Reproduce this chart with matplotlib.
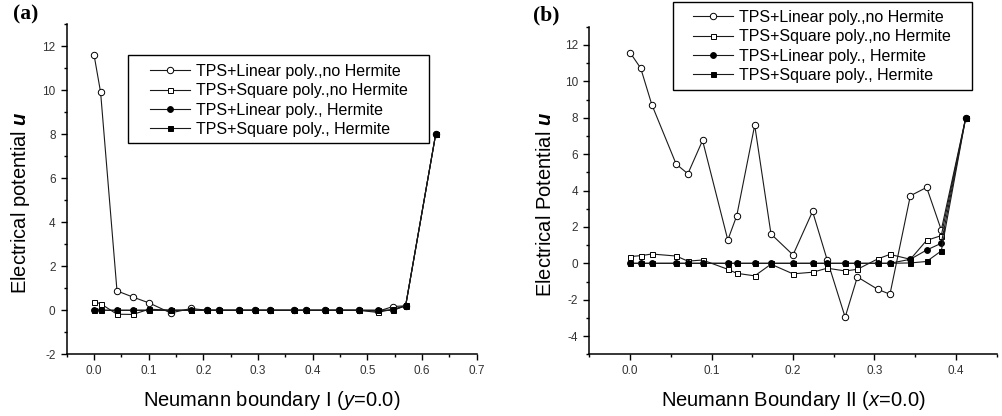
import matplotlib
matplotlib.use("Agg")
import matplotlib.pyplot as plt
from matplotlib.ticker import MultipleLocator
from matplotlib.lines import Line2D
from matplotlib.patches import Rectangle

plt.rcParams['font.family'] = ['Liberation Sans', 'DejaVu Sans']
plt.rcParams['mathtext.fontset'] = 'custom'
plt.rcParams['mathtext.it'] = 'Liberation Sans:italic'
plt.rcParams['mathtext.bf'] = 'Liberation Sans:bold:italic'
plt.rcParams['mathtext.rm'] = 'Liberation Sans'

# ---------------- data ----------------
series_labels = ["TPS+Linear poly.,no Hermite", "TPS+Square poly.,no Hermite",
                 "TPS+Linear poly., Hermite", "TPS+Square poly., Hermite"]

# Panel (a): Neumann boundary I (y=0.0)
xa = [0.0, 0.012, 0.042, 0.071, 0.101, 0.140, 0.178, 0.206, 0.228, 0.266, 0.295,
      0.321, 0.365, 0.387, 0.423, 0.448, 0.484, 0.519, 0.547, 0.570, 0.625]
a_lin_noherm = [11.6, 9.9, 0.88, 0.6, 0.33, -0.12, 0.08, 0.0, 0.0, 0.0, 0.0,
                0.0, 0.0, 0.0, 0.0, 0.0, 0.0, -0.05, 0.17, 0.2, 8.0]
a_sq_noherm = [0.38, 0.3, -0.18, -0.19, 0.05, 0.0, 0.0, 0.0, 0.0, 0.0, 0.0,
               0.0, 0.0, 0.0, 0.0, 0.0, 0.0, -0.1, 0.05, 0.2, 8.0]
a_lin_herm = [0.0, 0.0, 0.0, 0.0, 0.0, 0.0, 0.0, 0.0, 0.0, 0.0, 0.0,
              0.0, 0.0, 0.0, 0.0, 0.0, 0.0, 0.0, 0.0, 0.2, 8.0]
a_sq_herm = [0.0, 0.0, 0.0, 0.0, 0.0, 0.0, 0.0, 0.0, 0.0, 0.0, 0.0,
             0.0, 0.0, 0.0, 0.0, 0.0, 0.0, 0.0, 0.0, 0.22, 8.0]

# Panel (b): Neumann Boundary II (x=0.0)
xb = [0.0, 0.0131, 0.0267, 0.0566, 0.0710, 0.0890, 0.120, 0.131, 0.153, 0.173, 0.200,
      0.224, 0.242, 0.264, 0.279, 0.304, 0.319, 0.344, 0.364, 0.382, 0.412]
b_lin_noherm = [11.58, 10.72, 8.72, 5.45, 4.92, 6.75, 1.28, 2.62, 7.59, 1.61, 0.46,
                2.85, 0.18, -2.96, -0.75, -1.43, -1.70, 3.71, 4.17, 1.83, 8.0]
b_sq_noherm = [0.37, 0.42, 0.51, 0.40, 0.12, 0.18, -0.33, -0.55, -0.69, -0.05, -0.58,
               -0.49, -0.27, -0.42, -0.33, 0.24, 0.49, 0.22, 1.26, 1.52, 8.0]
b_lin_herm = [0.0, 0.0, 0.0, 0.0, 0.0, 0.0, 0.0, 0.0, 0.0, 0.0, 0.0,
              0.0, 0.0, 0.0, 0.0, 0.0, 0.0, 0.22, 0.73, 1.1, 8.0]
b_sq_herm = [0.0, 0.0, 0.0, 0.0, 0.0, 0.0, 0.0, 0.0, 0.0, 0.0, 0.0,
             0.0, 0.0, 0.0, 0.0, 0.0, 0.0, 0.02, 0.1, 0.68, 8.0]

# ---------------- styling ----------------
LC = '#1a1a1a'
styles = [
    dict(marker='o', mfc='white', mec='black', ms=4.6, mew=0.7),
    dict(marker='s', mfc='white', mec='black', ms=3.6, mew=0.7),
    dict(marker='o', mfc='black', mec='black', ms=4.2, mew=0.7),
    dict(marker='s', mfc='black', mec='black', ms=3.6, mew=0.7),
]

W, H = 1003, 416
fig = plt.figure(figsize=(W / 100, H / 100), dpi=100)

def px_axes(l, r, t, b):
    return fig.add_axes([l / W, 1 - b / H, (r - l) / W, (b - t) / H])

axA = px_axes(66.7, 476.7, 24.0, 354.3)
axB = px_axes(589.3, 996.7, 26.7, 354.3)

def style_axes(ax, xlim, ylim, xmaj, ymaj):
    ax.set_xlim(*xlim)
    ax.set_ylim(*ylim)
    ax.xaxis.set_major_locator(MultipleLocator(xmaj))
    ax.xaxis.set_minor_locator(MultipleLocator(xmaj / 2))
    ax.yaxis.set_major_locator(MultipleLocator(ymaj))
    ax.yaxis.set_minor_locator(MultipleLocator(ymaj / 2))
    for s in ('top', 'right'):
        ax.spines[s].set_visible(False)
    for s in ('left', 'bottom'):
        ax.spines[s].set_linewidth(1.1)
    ax.tick_params(which='major', direction='out', length=4, width=1.0,
                   labelsize=8.5, labelcolor='#333333', pad=4)
    ax.tick_params(which='minor', direction='out', length=2.3, width=1.0)
    ax.xaxis.set_major_formatter(plt.FuncFormatter(lambda v, p: f"{v:.1f}"))
    ax.yaxis.set_major_formatter(plt.FuncFormatter(lambda v, p: f"{v:.0f}"))

style_axes(axA, (-0.05, 0.7), (-2, 13), 0.1, 2)
style_axes(axB, (-0.05, 0.45), (-5, 13), 0.1, 2)

for ax, x, ys in [(axA, xa, [a_lin_noherm, a_sq_noherm, a_lin_herm, a_sq_herm]),
                  (axB, xb, [b_lin_noherm, b_sq_noherm, b_lin_herm, b_sq_herm])]:
    for y, st in zip(ys, styles):
        ax.plot(x, y, color=LC, lw=0.8, clip_on=False, **st)

axA.set_ylabel(r'Electrical potential $\mathbf{u}$', fontsize=14.5)
axA.set_xlabel(r'Neumann boundary I ($\mathit{y}$=0.0)', fontsize=14.5)
axB.set_ylabel(r'Electrical Potential $\mathbf{u}$', fontsize=14.5)
axB.set_xlabel(r'Neumann Boundary II ($\mathit{x}$=0.0)', fontsize=14.5)
axA.yaxis.set_label_coords(-0.085, 0.458)
axB.yaxis.set_label_coords(-0.085, 0.456)
axA.xaxis.set_label_coords(0.5, -0.105)
axB.xaxis.set_label_coords(0.5, -0.105)

# panel letters
fig.text(13 / W, 1 - 4 / H, '(a)', family='Liberation Serif', weight='bold',
         fontsize=15.5, va='top', ha='left')
fig.text(533 / W, 1 - 5 / H, '(b)', family='Liberation Serif', weight='bold',
         fontsize=15.5, va='top', ha='left')

# legends
handles = [Line2D([], [], color=LC, lw=0.8, **st) for st in styles]

def add_legend(ax, box, anchor):
    l, t, r, b = box
    fig.add_artist(Rectangle((l / W, 1 - b / H), (r - l) / W, (b - t) / H,
                             transform=fig.transFigure, fill=False,
                             edgecolor='black', lw=1.0))
    leg = ax.legend(handles, series_labels, loc='upper left',
                    bbox_to_anchor=(anchor[0] / W, 1 - anchor[1] / H),
                    bbox_transform=fig.transFigure, frameon=False,
                    fontsize=11.5, handlelength=2.5, handletextpad=0.4,
                    labelspacing=0.27, borderpad=0, borderaxespad=0)
    return leg

add_legend(axA, (127.7, 55.3, 429.0, 143.3), (150, 64.0))
add_legend(axB, (673.3, 2.3, 971.7, 90.0), (693, 10.0))

fig.savefig('out.png', dpi=100)
